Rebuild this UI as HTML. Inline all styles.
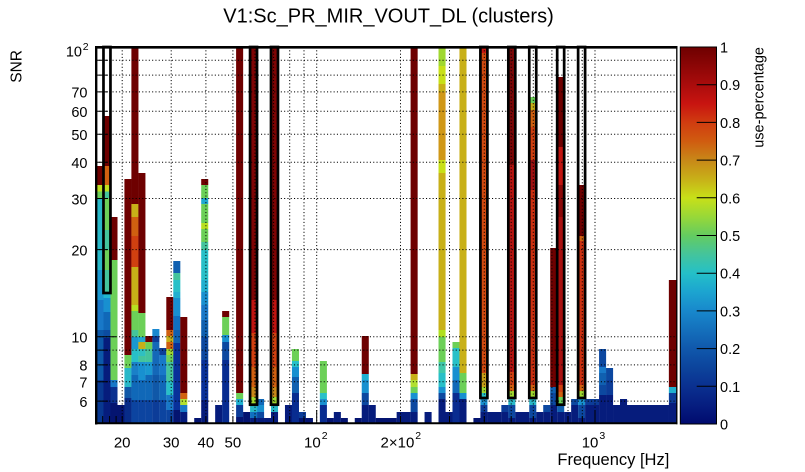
<!DOCTYPE html>
<html><head><meta charset="utf-8"><style>
html,body{margin:0;padding:0;background:#fff;}
svg{display:block;font-family:"Liberation Sans",Arial,sans-serif;}
</style></head><body>
<svg width="805" height="472" viewBox="0 0 805 472" xmlns="http://www.w3.org/2000/svg">
<defs>
<linearGradient id="pal" x1="0" y1="1" x2="0" y2="0">
<stop offset="0" stop-color="#000a6e"/><stop offset="0.05" stop-color="#061e80"/><stop offset="0.1" stop-color="#0a3090"/><stop offset="0.15" stop-color="#0c449c"/><stop offset="0.2" stop-color="#1058ac"/><stop offset="0.25" stop-color="#1470bc"/><stop offset="0.3" stop-color="#1888cc"/><stop offset="0.35" stop-color="#1ca4d0"/><stop offset="0.4" stop-color="#24c0c8"/><stop offset="0.45" stop-color="#44c49c"/><stop offset="0.5" stop-color="#64cc60"/><stop offset="0.55" stop-color="#98d838"/><stop offset="0.6" stop-color="#c8e018"/><stop offset="0.65" stop-color="#c8b018"/><stop offset="0.7" stop-color="#c88818"/><stop offset="0.75" stop-color="#d05c10"/><stop offset="0.8" stop-color="#d03c10"/><stop offset="0.85" stop-color="#c81410"/><stop offset="0.9" stop-color="#aa0c0c"/><stop offset="0.95" stop-color="#8c0606"/><stop offset="1" stop-color="#6e0000"/>
</linearGradient>
</defs>
<rect width="805" height="472" fill="#fff"/>
<text x="388.5" y="22.6" font-size="20" text-anchor="middle">V1:Sc_PR_MIR_VOUT_DL (clusters)</text>

<!-- histogram cells -->
<g transform="translate(96.5,0)"><rect width="7.05" y="166" height="19" fill="#6e0000"/><rect width="7.05" y="185" height="6.5" fill="#c0e020"/><rect width="7.05" y="191.5" height="6.5" fill="#6cd058"/><rect width="7.05" y="198" height="72" fill="#28b8c8"/><rect width="7.05" y="270" height="30" fill="#1a98d0"/><rect width="7.05" y="300" height="30" fill="#1878c8"/><rect width="7.05" y="330" height="50" fill="#0c58a8"/><rect width="7.05" y="380" height="44" fill="#083890"/></g>
<g transform="translate(103.48,0)"><rect width="7.05" y="116" height="50" fill="#6e0000"/><rect width="7.05" y="166" height="19" fill="#d06010"/><rect width="7.05" y="185" height="6.5" fill="#c0e020"/><rect width="7.05" y="191.5" height="6.5" fill="#44c49c"/><rect width="7.05" y="198" height="32" fill="#6cd058"/><rect width="7.05" y="230" height="20" fill="#44c49c"/><rect width="7.05" y="250" height="20" fill="#6cd058"/><rect width="7.05" y="270" height="22" fill="#44c49c"/><rect width="7.05" y="292" height="6" fill="#20b8d0"/><rect width="7.05" y="298" height="14" fill="#1890d0"/><rect width="7.05" y="312" height="18" fill="#1068b8"/><rect width="7.05" y="330" height="8" fill="#0c4ca0"/><rect width="7.05" y="338" height="86" fill="#061c7c"/></g>
<g transform="translate(110.46,0)"><rect width="7.05" y="217" height="43" fill="#6e0000"/><rect width="7.05" y="260" height="120" fill="#6cd058"/><rect width="7.05" y="380" height="7" fill="#1878c8"/><rect width="7.05" y="387" height="16" fill="#0a3090"/><rect width="7.05" y="403" height="21" fill="#041470"/></g>
<g transform="translate(117.44,0)"><rect width="7.05" y="405" height="19" fill="#041470"/></g>
<g transform="translate(124.42,0)"><rect width="7.05" y="179" height="176" fill="#6e0000"/><rect width="7.05" y="355" height="13" fill="#6cd058"/><rect width="7.05" y="368" height="19" fill="#28b8c8"/><rect width="7.05" y="387" height="11" fill="#1058a8"/><rect width="7.05" y="398" height="26" fill="#082c88"/></g>
<g transform="translate(131.4,0)"><rect width="7.05" y="47" height="157" fill="#6e0000"/><rect width="7.05" y="204" height="13" fill="#c8b018"/><rect width="7.05" y="217" height="19" fill="#d06010"/><rect width="7.05" y="236" height="31" fill="#d04010"/><rect width="7.05" y="267" height="38" fill="#c8b018"/><rect width="7.05" y="305" height="6" fill="#b8e020"/><rect width="7.05" y="311" height="19" fill="#6cd058"/><rect width="7.05" y="330" height="7" fill="#44c49c"/><rect width="7.05" y="337" height="12" fill="#1a98d0"/><rect width="7.05" y="349" height="13" fill="#28c0c8"/><rect width="7.05" y="362" height="13" fill="#1a80c8"/><rect width="7.05" y="375" height="25" fill="#1068b8"/><rect width="7.05" y="400" height="24" fill="#0c44a0"/></g>
<g transform="translate(138.38,0)"><rect width="7.05" y="173" height="140" fill="#6e0000"/><rect width="7.05" y="313" height="24" fill="#6cd058"/><rect width="7.05" y="337" height="5" fill="#20a8d0"/><rect width="7.05" y="342" height="7" fill="#c8b018"/><rect width="7.05" y="349" height="7" fill="#30c0c0"/><rect width="7.05" y="356" height="6" fill="#44c49c"/><rect width="7.05" y="362" height="18" fill="#1890d0"/><rect width="7.05" y="380" height="20" fill="#1068b8"/><rect width="7.05" y="400" height="24" fill="#0c44a0"/></g>
<g transform="translate(145.36,0)"><rect width="7.05" y="336" height="6" fill="#6e0000"/><rect width="7.05" y="342" height="7" fill="#6cd058"/><rect width="7.05" y="349" height="13" fill="#44c49c"/><rect width="7.05" y="362" height="13" fill="#1a98d0"/><rect width="7.05" y="375" height="25" fill="#1068b8"/><rect width="7.05" y="400" height="24" fill="#0c44a0"/></g>
<g transform="translate(152.34,0)"><rect width="7.05" y="329" height="7" fill="#1a88d0"/><rect width="7.05" y="336" height="6" fill="#0c3c98"/><rect width="7.05" y="342" height="33" fill="#1468b8"/><rect width="7.05" y="375" height="25" fill="#1058a8"/><rect width="7.05" y="400" height="24" fill="#0c3c98"/></g>
<g transform="translate(159.32,0)"><rect width="7.05" y="348" height="7" fill="#0c3c98"/><rect width="7.05" y="355" height="20" fill="#1878c8"/><rect width="7.05" y="375" height="25" fill="#1068b8"/><rect width="7.05" y="400" height="24" fill="#0c44a0"/></g>
<g transform="translate(166.3,0)"><rect width="7.05" y="297" height="33" fill="#6e0000"/><rect width="7.05" y="330" height="6" fill="#d06010"/><rect width="7.05" y="336" height="6" fill="#c8b018"/><rect width="7.05" y="342" height="7" fill="#d06010"/><rect width="7.05" y="349" height="6" fill="#a0d830"/><rect width="7.05" y="355" height="7" fill="#6cd058"/><rect width="7.05" y="362" height="19" fill="#44c49c"/><rect width="7.05" y="381" height="14" fill="#28c0c8"/><rect width="7.05" y="395" height="15" fill="#1878c8"/><rect width="7.05" y="410" height="14" fill="#0c44a0"/></g>
<g transform="translate(173.28,0)"><rect width="7.05" y="261" height="12" fill="#1060b0"/><rect width="7.05" y="273" height="7" fill="#44c49c"/><rect width="7.05" y="280" height="12" fill="#28c0c8"/><rect width="7.05" y="292" height="6" fill="#20b0d0"/><rect width="7.05" y="298" height="18" fill="#1890d0"/><rect width="7.05" y="316" height="14" fill="#1070c0"/><rect width="7.05" y="330" height="13" fill="#1060b0"/><rect width="7.05" y="343" height="67" fill="#08309a"/><rect width="7.05" y="410" height="14" fill="#041470"/></g>
<g transform="translate(180.26,0)"><rect width="7.05" y="317" height="76" fill="#6e0000"/><rect width="7.05" y="393" height="6" fill="#d06010"/><rect width="7.05" y="399" height="6" fill="#b0e030"/><rect width="7.05" y="405" height="7" fill="#1878c8"/><rect width="7.05" y="412" height="12" fill="#061c7c"/></g>
<g transform="translate(194.22,0)"><rect width="7.05" y="418" height="6" fill="#041470"/></g>
<g transform="translate(201.2,0)"><rect width="7.05" y="179" height="6" fill="#6e0000"/><rect width="7.05" y="185" height="13" fill="#6cd058"/><rect width="7.05" y="198" height="6" fill="#20a8d0"/><rect width="7.05" y="204" height="19" fill="#6cd058"/><rect width="7.05" y="223" height="6" fill="#b8e020"/><rect width="7.05" y="229" height="13" fill="#6cd058"/><rect width="7.05" y="242" height="8" fill="#44c49c"/><rect width="7.05" y="250" height="30" fill="#28c0c8"/><rect width="7.05" y="280" height="12" fill="#20b0d0"/><rect width="7.05" y="292" height="13" fill="#1890d0"/><rect width="7.05" y="305" height="15" fill="#1878c8"/><rect width="7.05" y="320" height="17" fill="#1060b0"/><rect width="7.05" y="337" height="23" fill="#0c48a0"/><rect width="7.05" y="360" height="40" fill="#08309a"/><rect width="7.05" y="400" height="24" fill="#061c7c"/></g>
<g transform="translate(215.16,0)"><rect width="7.05" y="405" height="19" fill="#061c7c"/></g>
<g transform="translate(222.14,0)"><rect width="7.05" y="311" height="6" fill="#6e0000"/><rect width="7.05" y="317" height="18" fill="#6cd058"/><rect width="7.05" y="335" height="7" fill="#1890d0"/><rect width="7.05" y="342" height="18" fill="#0c48a0"/><rect width="7.05" y="360" height="64" fill="#082c90"/></g>
<g transform="translate(236.1,0)"><rect width="7.05" y="47" height="346" fill="#6e0000"/><rect width="7.05" y="393" height="6" fill="#6cd058"/><rect width="7.05" y="399" height="6" fill="#20b0d0"/><rect width="7.05" y="405" height="12" fill="#0c3c98"/><rect width="7.05" y="417" height="7" fill="#041470"/></g>
<g transform="translate(243.08,0)"><rect width="7.05" y="412" height="12" fill="#041470"/></g>
<g transform="translate(250.06,0)"><rect width="7.05" y="47" height="253" fill="#7e0404"/><rect width="7.05" y="300" height="33" fill="#c01410"/><rect width="7.05" y="333" height="34" fill="#d04010"/><rect width="7.05" y="367" height="20" fill="#d06010"/><rect width="7.05" y="387" height="10" fill="#c88818"/><rect width="7.05" y="397" height="7" fill="#a0d830"/><rect width="7.05" y="404" height="8" fill="#28b8c8"/><rect width="7.05" y="412" height="6" fill="#1070c0"/><rect width="7.05" y="418" height="6" fill="#061c7c"/></g>
<g transform="translate(257.04,0)"><rect width="7.05" y="399" height="6" fill="#1068b8"/><rect width="7.05" y="405" height="7" fill="#1890d0"/><rect width="7.05" y="412" height="6" fill="#0c48a0"/><rect width="7.05" y="418" height="6" fill="#061c7c"/></g>
<g transform="translate(264.02,0)"><rect width="7.05" y="418" height="6" fill="#061c7c"/></g>
<g transform="translate(271,0)"><rect width="7.05" y="47" height="253" fill="#7e0404"/><rect width="7.05" y="300" height="33" fill="#c01410"/><rect width="7.05" y="333" height="34" fill="#d04010"/><rect width="7.05" y="367" height="20" fill="#d06010"/><rect width="7.05" y="387" height="10" fill="#c88818"/><rect width="7.05" y="397" height="7" fill="#a0d830"/><rect width="7.05" y="404" height="8" fill="#28b8c8"/><rect width="7.05" y="412" height="12" fill="#061c7c"/></g>
<g transform="translate(284.96,0)"><rect width="7.05" y="405" height="19" fill="#061c7c"/></g>
<g transform="translate(291.94,0)"><rect width="7.05" y="349" height="12" fill="#6cd058"/><rect width="7.05" y="361" height="6" fill="#28c0c8"/><rect width="7.05" y="367" height="10" fill="#1890d0"/><rect width="7.05" y="377" height="16" fill="#1060b0"/><rect width="7.05" y="393" height="31" fill="#082c90"/></g>
<g transform="translate(298.92,0)"><rect width="7.05" y="412" height="6" fill="#0c3c98"/><rect width="7.05" y="418" height="6" fill="#041470"/></g>
<g transform="translate(305.9,0)"><rect width="7.05" y="418" height="6" fill="#041470"/></g>
<g transform="translate(319.86,0)"><rect width="7.05" y="361" height="32" fill="#6cd058"/><rect width="7.05" y="393" height="6" fill="#28c0c8"/><rect width="7.05" y="399" height="6" fill="#1890d0"/><rect width="7.05" y="405" height="19" fill="#082c90"/></g>
<rect x="326.84" y="418" width="7.05" height="6" fill="#041470"/>
<rect x="333.82" y="412" width="7.05" height="12" fill="#061c7c"/>
<rect x="340.8" y="418" width="7.05" height="6" fill="#041470"/>
<rect x="354.76" y="418" width="7.05" height="6" fill="#041470"/>
<g transform="translate(361.74,0)"><rect width="7.05" y="336" height="38" fill="#6e0000"/><rect width="7.05" y="374" height="6" fill="#20b0d0"/><rect width="7.05" y="380" height="13" fill="#1890d0"/><rect width="7.05" y="393" height="12" fill="#0c48a0"/><rect width="7.05" y="405" height="19" fill="#061c7c"/></g>
<rect x="368.72" y="405" width="7.05" height="19" fill="#061c7c"/>
<rect x="375.7" y="418" width="21" height="6" fill="#041470"/>
<rect x="396.64" y="412" width="14" height="12" fill="#061c7c"/>
<g transform="translate(410.6,0)"><rect width="7.05" y="47" height="327" fill="#6e0000"/><rect width="7.05" y="374" height="6" fill="#c8b018"/><rect width="7.05" y="380" height="7" fill="#b0e030"/><rect width="7.05" y="387" height="6" fill="#6cd058"/><rect width="7.05" y="393" height="6" fill="#1890d0"/><rect width="7.05" y="399" height="13" fill="#0c48a0"/><rect width="7.05" y="412" height="12" fill="#061c7c"/></g>
<rect x="424.56" y="412" width="7.05" height="12" fill="#061c7c"/>
<g transform="translate(438.52,0)"><rect width="7.05" y="47" height="19" fill="#a0d830"/><rect width="7.05" y="66" height="18" fill="#c8e018"/><rect width="7.05" y="84" height="8" fill="#c8b018"/><rect width="7.05" y="92" height="68" fill="#d09818"/><rect width="7.05" y="160" height="13" fill="#c8e018"/><rect width="7.05" y="173" height="157" fill="#c8b018"/><rect width="7.05" y="330" height="7" fill="#b0e020"/><rect width="7.05" y="337" height="25" fill="#6cd058"/><rect width="7.05" y="362" height="11" fill="#40c8a8"/><rect width="7.05" y="373" height="14" fill="#28c0c8"/><rect width="7.05" y="387" height="6" fill="#1890d0"/><rect width="7.05" y="393" height="6" fill="#0c48a0"/><rect width="7.05" y="399" height="25" fill="#061c7c"/></g>
<rect x="445.5" y="412" width="7.05" height="12" fill="#061c7c"/>
<g transform="translate(452.48,0)"><rect width="7.05" y="342" height="6" fill="#6cd058"/><rect width="7.05" y="348" height="19" fill="#28c0c8"/><rect width="7.05" y="367" height="13" fill="#1890d0"/><rect width="7.05" y="380" height="13" fill="#1068b8"/><rect width="7.05" y="393" height="31" fill="#0a2c90"/></g>
<g transform="translate(459.46,0)"><rect width="7.05" y="47" height="326" fill="#c8b018"/><rect width="7.05" y="373" height="20" fill="#6cd058"/><rect width="7.05" y="393" height="6" fill="#1890d0"/><rect width="7.05" y="399" height="25" fill="#061c7c"/></g>
<rect x="473.42" y="418" width="7.05" height="6" fill="#041470"/>
<g transform="translate(480.4,0)"><rect width="7.05" y="47" height="6" fill="#c81810"/><rect width="7.05" y="53" height="320" fill="#d04a10"/><rect width="7.05" y="373" height="14" fill="#c8a018"/><rect width="7.05" y="387" height="6" fill="#a0d830"/><rect width="7.05" y="393" height="6" fill="#28c0c8"/><rect width="7.05" y="399" height="6" fill="#1890d0"/><rect width="7.05" y="405" height="7" fill="#0c3c98"/><rect width="7.05" y="412" height="12" fill="#061c7c"/></g>
<rect x="487.38" y="412" width="14" height="12" fill="#061c7c"/>
<rect x="501.34" y="405" width="7.05" height="7" fill="#0c3c98"/><rect x="501.34" y="412" width="7.05" height="12" fill="#061c7c"/>
<g transform="translate(508.32,0)"><rect width="7.05" y="47" height="118" fill="#7a0606"/><rect width="7.05" y="165" height="207" fill="#b41410"/><rect width="7.05" y="372" height="13" fill="#d04010"/><rect width="7.05" y="385" height="6" fill="#d06010"/><rect width="7.05" y="391" height="7" fill="#a0d830"/><rect width="7.05" y="398" height="7" fill="#28b8c8"/><rect width="7.05" y="405" height="13" fill="#0c48a0"/><rect width="7.05" y="418" height="6" fill="#061c7c"/></g>
<rect x="515.3" y="412" width="14" height="12" fill="#061c7c"/>
<g transform="translate(529.26,0)"><rect width="7.05" y="97" height="6" fill="#6cd058"/><rect width="7.05" y="103" height="7" fill="#c8b018"/><rect width="7.05" y="110" height="17" fill="#d06010"/><rect width="7.05" y="127" height="33" fill="#d04010"/><rect width="7.05" y="160" height="30" fill="#a01010"/><rect width="7.05" y="190" height="195" fill="#cc3010"/><rect width="7.05" y="385" height="6" fill="#d06010"/><rect width="7.05" y="391" height="7" fill="#a0d830"/><rect width="7.05" y="398" height="7" fill="#28b8c8"/><rect width="7.05" y="405" height="13" fill="#0c48a0"/><rect width="7.05" y="418" height="6" fill="#061c7c"/></g>
<rect x="536.24" y="412" width="7.05" height="12" fill="#061c7c"/>
<rect x="543.22" y="405" width="7.05" height="7" fill="#0c48a0"/><rect x="543.22" y="412" width="7.05" height="12" fill="#061c7c"/>
<g transform="translate(550.2,0)"><rect width="7.05" y="248" height="139" fill="#6e0000"/><rect width="7.05" y="387" height="6" fill="#1060b0"/><rect width="7.05" y="393" height="12" fill="#0c48a0"/><rect width="7.05" y="405" height="19" fill="#061c7c"/></g>
<g transform="translate(557.18,0)"><rect width="7.05" y="77" height="70" fill="#6e0000"/><rect width="7.05" y="147" height="38" fill="#c01410"/><rect width="7.05" y="185" height="32" fill="#8a0808"/><rect width="7.05" y="217" height="168" fill="#a81010"/><rect width="7.05" y="385" height="7" fill="#d04010"/><rect width="7.05" y="392" height="5" fill="#d06010"/><rect width="7.05" y="397" height="7" fill="#6cd058"/><rect width="7.05" y="404" height="8" fill="#1060b0"/><rect width="7.05" y="412" height="12" fill="#061c7c"/></g>
<rect x="564.16" y="412" width="7.05" height="12" fill="#061c7c"/>
<rect x="571.14" y="399" width="7.05" height="6" fill="#0c48a0"/><rect x="571.14" y="405" width="7.05" height="19" fill="#061c7c"/>
<g transform="translate(578.12,0)"><rect width="7.05" y="185" height="51" fill="#6e0000"/><rect width="7.05" y="236" height="5" fill="#d06010"/><rect width="7.05" y="241" height="144" fill="#cc3010"/><rect width="7.05" y="385" height="6" fill="#d06010"/><rect width="7.05" y="391" height="7" fill="#a0d830"/><rect width="7.05" y="398" height="7" fill="#1890d0"/><rect width="7.05" y="405" height="13" fill="#0c48a0"/><rect width="7.05" y="418" height="6" fill="#061c7c"/></g>
<rect x="585.1" y="399" width="14" height="6" fill="#0c3c98"/><rect x="585.1" y="405" width="14" height="19" fill="#061c7c"/>
<g transform="translate(599.06,0)"><rect width="7.05" y="349" height="18" fill="#0c48a0"/><rect width="7.05" y="367" height="6" fill="#1878c8"/><rect width="7.05" y="373" height="12" fill="#1060b0"/><rect width="7.05" y="385" height="10" fill="#0c48a0"/><rect width="7.05" y="395" height="29" fill="#061c7c"/></g>
<g transform="translate(606.04,0)"><rect width="7.05" y="368" height="12" fill="#0c48a0"/><rect width="7.05" y="380" height="15" fill="#0c3c98"/><rect width="7.05" y="395" height="29" fill="#061c7c"/></g>
<rect x="613.02" y="405" width="7.05" height="19" fill="#061c7c"/>
<rect x="620" y="399" width="7.05" height="25" fill="#061c7c"/>
<rect x="626.98" y="405" width="42" height="19" fill="#061c7c"/>
<g transform="translate(668.86,0)"><rect width="7.8" y="280" height="107" fill="#6e0000"/><rect width="7.8" y="387" height="6" fill="#20b0d0"/><rect width="7.8" y="393" height="10" fill="#0c3c98"/><rect width="7.8" y="403" height="21" fill="#061c7c"/></g>

<!-- grid -->
<g stroke="#000" stroke-width="1" stroke-dasharray="1.1 2.2" fill="none">
<path d="M96 60.3H676.5M96 75.1H676.5M96 91.9H676.5M96 111.3H676.5M96 134.2H676.5M96 162.3H676.5M96 198.5H676.5M96 249.6H676.5M96 336.8H676.5M96 350.1H676.5M96 364.9H676.5M96 381.7H676.5M96 401.1H676.5"/>
<path d="M122.2 47V423M171.2 47V423M205.9 47V423M232.9 47V423M255 47V423M273.6 47V423M289.7 47V423M304 47V423M316.7 47V423M400.5 47V423M449.5 47V423M484.3 47V423M511.2 47V423M533.3 47V423M551.9 47V423M568 47V423M582.3 47V423M595 47V423"/>
</g>

<!-- cluster boxes -->
<g stroke="#000" stroke-width="2.7" fill="none">
<rect x="103.48" y="47" width="6.98" height="246"/>
<rect x="250.06" y="47" width="6.98" height="357.7"/>
<rect x="271" y="47" width="6.98" height="357.7"/>
<rect x="480.4" y="47" width="6.98" height="351"/>
<rect x="508.32" y="47" width="6.98" height="351"/>
<rect x="529.26" y="47" width="6.98" height="351"/>
<rect x="557.18" y="47" width="6.98" height="357.7"/>
<rect x="578.12" y="47" width="6.98" height="351"/>
</g>

<!-- frame -->
<g stroke="#000" fill="none">
<line x1="95" y1="47.3" x2="677.5" y2="47.3" stroke-width="2.7"/>
<line x1="96.2" y1="46" x2="96.2" y2="424.5" stroke-width="2.4"/>
<line x1="95" y1="423.3" x2="677.5" y2="423.3" stroke-width="2"/>
<line x1="676.8" y1="46" x2="676.8" y2="424.3" stroke-width="1.3"/>
</g>
<!-- ticks -->
<g stroke="#000" stroke-width="1">
<path d="M96 336.8H116M96 350.1H108M96 364.9H108M96 381.7H108M96 401.1H108M96 249.6H108M96 198.5H108M96 162.3H108M96 134.2H108M96 111.3H108M96 91.9H108M96 75.1H108M96 60.3H108"/>
<path d="M102.7 423V416M109.6 423V416M116.1 423V416M122.2 423V416M171.2 423V416M205.9 423V416M232.9 423V416M255 423V416M273.6 423V416M289.7 423V416M304 423V416M316.7 423V410M400.5 423V416M449.5 423V416M484.3 423V416M511.2 423V416M533.3 423V416M551.9 423V416M568 423V416M582.3 423V416M595 423V410"/>
</g>

<!-- axis labels -->
<g font-size="14.5" text-anchor="end">
<text x="82" y="56.5">10</text>
<text x="87.5" y="97.7">70</text>
<text x="87.5" y="117.1">60</text>
<text x="87.5" y="140">50</text>
<text x="87.5" y="168.1">40</text>
<text x="87.5" y="204.3">30</text>
<text x="87.5" y="255.4">20</text>
<text x="87.5" y="342.6">10</text>
<text x="87.5" y="370.7">8</text>
<text x="87.5" y="387.5">7</text>
<text x="87.5" y="406.9">6</text>
</g>
<text x="82.8" y="50" font-size="10.5">2</text>
<text transform="translate(21.5,50) rotate(-90)" font-size="15.5" text-anchor="end">SNR</text>

<g font-size="15" text-anchor="middle">
<text x="122.2" y="447.5">20</text>
<text x="171.2" y="447.5">30</text>
<text x="205.9" y="447.5">40</text>
<text x="232.9" y="447.5">50</text>
</g>
<g font-size="15">
<text x="304" y="447.5">10<tspan font-size="10.5" dx="1" dy="-8.5">2</tspan></text>
<text x="380.5" y="447.5">2×10<tspan font-size="10.5" dx="1" dy="-8.5">2</tspan></text>
<text x="581.7" y="447.5">10<tspan font-size="10.5" dx="1" dy="-8.5">3</tspan></text>
</g>
<text x="669.3" y="465" font-size="16.5" text-anchor="end">Frequency [Hz]</text>

<!-- colorbar -->
<rect x="680.3" y="47" width="36.2" height="377" fill="url(#pal)" stroke="#000" stroke-width="1"/>
<g stroke="#000" stroke-width="1">
<path d="M696.7 386.3H716.5M696.7 348.6H716.5M696.7 310.9H716.5M696.7 273.2H716.5M696.7 235.5H716.5M696.7 197.8H716.5M696.7 160.1H716.5M696.7 122.4H716.5M696.7 84.7H716.5"/>
</g>
<g font-size="14.5">
<text x="720" y="52.5">1</text>
<text x="720" y="90.2">0.9</text>
<text x="720" y="127.9">0.8</text>
<text x="720" y="165.6">0.7</text>
<text x="720" y="203.3">0.6</text>
<text x="720" y="241">0.5</text>
<text x="720" y="278.7">0.4</text>
<text x="720" y="316.4">0.3</text>
<text x="720" y="354.1">0.2</text>
<text x="720" y="391.8">0.1</text>
<text x="720" y="429.5">0</text>
</g>
<text transform="translate(763.5,47) rotate(-90)" font-size="14.5" text-anchor="end">use-percentage</text>
</svg>
</body></html>
